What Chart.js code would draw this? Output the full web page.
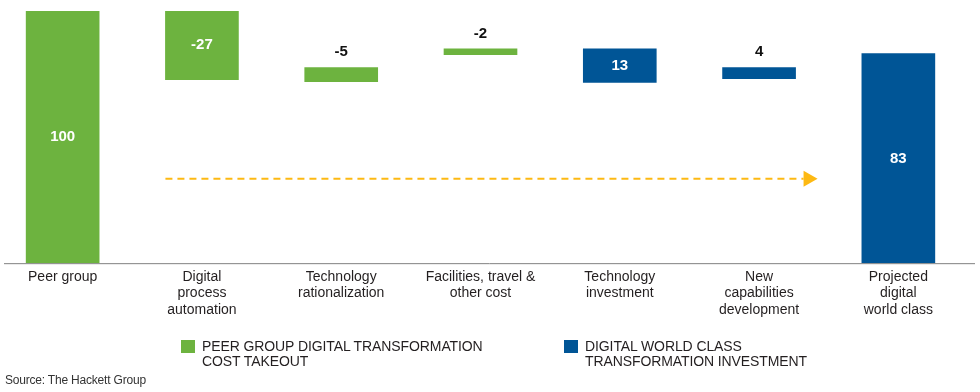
<!DOCTYPE html>
<html>
<head>
<meta charset="utf-8">
<script src="https://cdn.jsdelivr.net/npm/chart.js@4.4.1/dist/chart.umd.min.js"></script>
<style>
    body { margin: 0; background: #fff; font-family: "Liberation Sans", Arial, sans-serif; }
    #wrap { position: relative; width: 980px; height: 392px; overflow: hidden; }
    #chartBox { position: absolute; left: -7px; top: 0; width: 984px; height: 392px; }
    .legend { position: absolute; top: 339px; font-size: 14px; line-height: 15px; color: #231f20; letter-spacing: -0.1px; }
    .legend .sw { position: absolute; left: 0; top: 1px; width: 14px; height: 13px; }
    .legend .txt { position: absolute; left: 21px; top: 0; white-space: nowrap; }
    #source { position: absolute; left: 5px; top: 373px; font-size: 12px; color: #333; letter-spacing: -0.2px; }
</style>
</head>
<body>
<div id="wrap">
    <div id="chartBox"><canvas id="waterfall"></canvas></div>
    <div class="legend" style="left:181px;"><div class="sw" style="background:#6db33f"></div><div class="txt">PEER GROUP DIGITAL TRANSFORMATION<br>COST TAKEOUT</div></div>
    <div class="legend" style="left:564px;"><div class="sw" style="background:#005596"></div><div class="txt">DIGITAL WORLD CLASS<br>TRANSFORMATION INVESTMENT</div></div>
    <div id="source">Source: The Hackett Group</div>
</div>
<script>
// categories (multi-line tick labels)
const categories = [
    ['Peer group'],
    ['Digital', 'process', 'automation'],
    ['Technology', 'rationalization'],
    ['Facilities, travel &', 'other cost'],
    ['Technology', 'investment'],
    ['New', 'capabilities', 'development'],
    ['Projected', 'digital', 'world class']
];
// bar extents as drawn in the picture
const barLow  = [0, 72.8, 72.0, 82.7, 71.7, 73.2, 0];
const barHigh = [100, 100, 77.6, 85.0, 85.0, 77.6, 83.1];
// printed values
const valueLabels = ['100', '-27', '-5', '-2', '13', '4', '83'];
const groups = ['cost', 'cost', 'cost', 'cost', 'invest', 'invest', 'invest'];

const GREEN = '#6db33f';
const BLUE = '#005596';
const ARROW = '#fdb913';

// value labels: white inside tall bars, black above thin ones
const valueLabelPlugin = {
    id: 'valueLabels',
    afterDatasetsDraw(chart) {
        const ctx = chart.ctx;
        const meta = chart.getDatasetMeta(0);
        ctx.save();
        ctx.font = 'bold 15px "Liberation Sans", Arial, sans-serif';
        ctx.textAlign = 'center';
        meta.data.forEach((bar, i) => {
            const top = Math.min(bar.y, bar.base);
            const bottom = Math.max(bar.y, bar.base);
            if (bottom - top > 25) {
                ctx.fillStyle = '#fff';
                ctx.textBaseline = 'middle';
                ctx.fillText(valueLabels[i], bar.x, (top + bottom) / 2);
            } else {
                ctx.fillStyle = '#111';
                ctx.textBaseline = 'alphabetic';
                ctx.fillText(valueLabels[i], bar.x, top - 11);
            }
        });
        ctx.restore();
    }
};

// dashed arrow across the middle steps + axis line
const arrowPlugin = {
    id: 'arrow',
    afterDatasetsDraw(chart) {
        const ctx = chart.ctx;
        const meta = chart.getDatasetMeta(0);
        const area = chart.chartArea;
        const b1 = meta.data[1], b5 = meta.data[5];
        const y = chart.scales.y.getPixelForValue(33.5);
        const x0 = b1.x - b1.width / 2;
        const tip = b5.x + b5.width / 2 + 22;
        ctx.save();
        ctx.strokeStyle = '#808080';
        ctx.lineWidth = 1;
        ctx.beginPath();
        ctx.moveTo(area.left + 11, area.bottom + 0.5);
        ctx.lineTo(area.right + 7, area.bottom + 0.5);
        ctx.stroke();

        ctx.strokeStyle = ARROW;
        ctx.lineWidth = 2;
        ctx.setLineDash([7, 5]);
        ctx.beginPath();
        ctx.moveTo(x0, y);
        ctx.lineTo(tip - 14, y);
        ctx.stroke();
        ctx.setLineDash([]);
        ctx.fillStyle = ARROW;
        ctx.beginPath();
        ctx.moveTo(tip - 14, y - 8);
        ctx.lineTo(tip, y);
        ctx.lineTo(tip - 14, y + 8);
        ctx.closePath();
        ctx.fill();
        ctx.restore();
    }
};

new Chart(document.getElementById('waterfall'), {
    type: 'bar',
    data: {
        labels: categories,
        datasets: [{
            data: barLow.map((lo, i) => [lo, barHigh[i]]),
            backgroundColor: groups.map(g => g === 'cost' ? GREEN : BLUE),
            borderWidth: 0,
            barThickness: 73
        }]
    },
    options: {
        responsive: true,
        maintainAspectRatio: false,
        animation: false,
        layout: { padding: { top: 11, bottom: 68, left: 0, right: 9 } },
        plugins: { legend: { display: false }, tooltip: { enabled: false } },
        scales: {
            x: {
                grid: { display: false, drawTicks: false },
                border: { display: false },
                ticks: {
                    color: '#231f20',
                    font: { family: '"Liberation Sans", Arial, sans-serif', size: 14, lineHeight: 1.21 },
                    padding: 5,
                    maxRotation: 0,
                    autoSkip: false
                }
            },
            y: { display: false, min: 0, max: 100 }
        }
    },
    plugins: [valueLabelPlugin, arrowPlugin]
});
</script>
</body>
</html>
